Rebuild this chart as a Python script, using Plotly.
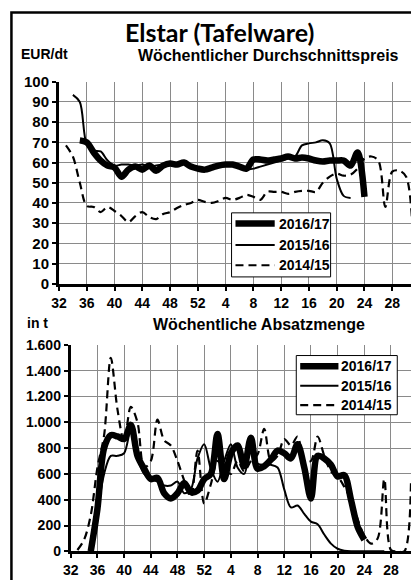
import plotly.graph_objects as go

# ---------------- data ----------------
week_labels = [32, 33, 34, 35, 36, 37, 38, 39, 40, 41, 42, 43, 44, 45, 46, 47, 48, 49, 50, 51, 52,
               1, 2, 3, 4, 5, 6, 7, 8, 9, 10, 11, 12, 13, 14, 15, 16, 17, 18, 19, 20,
               21, 22, 23, 24, 25, 26, 27, 28, 29, 30, 31]
series_names = ["2016/17", "2015/16", "2014/15"]

price_2016_17 = [None, None, None, 71, 70, 65, 61, 58.5, 57.5, 53, 56.5, 58, 56.5, 58.5, 56, 58.5,
                 59.5, 59, 60, 58, 57, 56.5, 57.5, 58.5, 59, 59, 58, 57, 61.5, 61.5, 61, 61.5, 62,
                 63, 62, 62.5, 62, 61, 60.5, 61, 61, 61, 58.5, 65, 43,
                 None, None, None, None, None, None, None]
price_2015_16 = [None, None, 93.5, 90, 69, 66, 65.5, 61, 58.5, 59, 59, 58.5, 59, 58, 58.5, 59,
                 59.5, 59.5, 60, 58.5, 57.5, 57, 58, 58.5, 59, 59, 58, 56.5, 57, 58, 59, 60, 61,
                 62, 63, 68.5, 69.5, 70, 71, 69.5, 52, 43.5, 42.5,
                 None, None, None, None, None, None, None, None, None]
price_2014_15 = [None, 68.5, 63, 50, 38.5, 38, 35.5, 38, 36, 33.5, 30.5, 33.5, 35.5, 33, 32, 34.5,
                 35.5, 37.5, 39, 40, 41.5, 40.5, 40, 41, 42.5, 41.5, 42.5, 44, 43, 41.5, 45.5,
                 45.5, 45.5, 44.5, 45.5, 46, 46, 45.5, 50, 53, 54.5, 53.5, 54, 57, 62, 63, 61,
                 38, 55.5, 56, 53, 22]

sales_2016_17 = [None, None, None, 0, 330, 800, 900, 890, 870, 980, 740, 640, 560, 570, 450, 410,
                 450, 530, 460, 470, 560, 600, 910, 560, 760, 820, 660, 880, 640, 660, 710, 780,
                 760, 720, 830, 650, 410, 740, 720, 670, 580, 590, 400, 190, 90,
                 None, None, None, None, None, None, None]
sales_2015_16 = [None, None, None, 0, 300, 600, 740, 740, 760, 940, 720, 600, 560, 540, 510, 510,
                 540, 450, 480, 720, 830, 640, 540, 700, 830, 650, 600, 800, 680, 670, 670, 650,
                 480, 340, 355, 290, 230, 210, 130, 60, 20, 5, 0, 0, 0, 0, 0, 0,
                 None, None, None, None]
sales_2014_15 = [None, 10, 90, 280, 650, 900, 1500, 1100, 850, 1120, 1000, 650, 700, 1020, 860,
                 820, 700, 550, 420, 780, 370, 520, 700, 640, 600, 700, 620, 700, 750, 950, 700,
                 740, 870, 820, 890, 700, 700, 890, 740, 620, 580, 500, 400, 250, 120, 60, 100,
                 560, 10, 0, 0, 540]

price_ticks = [0, 10, 20, 30, 40, 50, 60, 70, 80, 90, 100]
sales_ticks = [0, 200, 400, 600, 800, 1000, 1200, 1400, 1600]
sales_tick_text = ["0", "200", "400", "600", "800", "1.000", "1.200", "1.400", "1.600"]

# ---------------- figure ----------------
W, H = 411, 580
FONT = "Liberation Sans, Arial, sans-serif"
idx = list(range(len(week_labels)))
xtickvals = idx[::4]
xticktext = [str(week_labels[i]) for i in xtickvals]

styles = {
    "2016/17": dict(color="black", width=6.5),
    "2015/16": dict(color="black", width=2),
    "2014/15": dict(color="black", width=2.2, dash="8px,5px"),
}

fig = go.Figure()

def add_series(name, y, xa, ya):
    fig.add_trace(go.Scatter(
        x=idx, y=y, name=name, mode="lines", xaxis=xa, yaxis=ya, showlegend=False,
        connectgaps=False, line=dict(shape="spline", smoothing=0.9, **styles[name])))

for name, y in [("2014/15", price_2014_15), ("2015/16", price_2015_16),
                ("2016/17", price_2016_17)]:
    add_series(name, y, "x", "y")
for name, y in [("2014/15", sales_2014_15), ("2015/16", sales_2015_16),
                ("2016/17", sales_2016_17)]:
    add_series(name, y, "x2", "y2")

def px(x):
    return x / W

def py(y):
    return 1 - y / H

def bold(size):
    return dict(family=FONT, size=size, color="black", weight="bold")

axis_common = dict(showline=True, linecolor="black", linewidth=3, ticks="outside",
                   ticklen=4, tickwidth=2, tickcolor="black", showgrid=True,
                   gridcolor="#8a8a8a", gridwidth=1, zeroline=False)

fig.update_layout(
    width=W, height=H, margin=dict(l=0, r=0, t=0, b=0),
    paper_bgcolor="white", plot_bgcolor="white", showlegend=False,
    xaxis=dict(domain=[px(52), 1], range=[0, 50.7], tickvals=xtickvals, ticktext=xticktext,
               anchor="y", tickfont=bold(14), **axis_common),
    yaxis=dict(domain=[py(283), py(75)], range=[0, 100], tickvals=price_ticks,
               anchor="x", tickfont=bold(15), **axis_common),
    xaxis2=dict(domain=[px(64), 1], range=[0, 51], tickvals=xtickvals, ticktext=xticktext,
                anchor="y2", tickfont=bold(14), **axis_common),
    yaxis2=dict(domain=[py(558.7), py(346)], range=[0, 1600], tickvals=sales_ticks,
                ticktext=sales_tick_text, anchor="x2", tickfont=bold(14), **axis_common),
)

annots = [
    dict(text="Elstar (Tafelware)", x=px(216), y=py(24), xanchor="center", yanchor="middle",
         font=dict(family="Lato, Noto Sans, sans-serif", size=25, color="black", weight="bold")),
    dict(text="EUR/dt", x=px(11), y=py(46), xanchor="left", yanchor="middle", font=bold(14)),
    dict(text="Wöchentlicher Durchschnittspreis", x=px(266), y=py(48), xanchor="center",
         yanchor="middle", font=bold(16)),
    dict(text="in t", x=px(17), y=py(323), xanchor="left", yanchor="middle", font=bold(14)),
    dict(text="Wöchentliche Absatzmenge", x=px(256), y=py(325), xanchor="center",
         yanchor="middle", font=bold(16)),
]

# legends (one box per panel)
legend_boxes = [
    dict(box=(228, 329, 210, 276), line_x=(232, 272), text_x=274, rows=(221, 243, 264)),
    dict(box=(294, 397, 357, 418), line_x=(298, 337), text_x=338, rows=(368, 388, 408)),
]
for lg in legend_boxes:
    x0, x1, y0, y1 = lg["box"]
    fig.add_shape(type="rect", xref="paper", yref="paper", x0=px(x0), x1=px(x1),
                  y0=py(y1), y1=py(y0), line=dict(color="black", width=1), fillcolor="white",
                  layer="above")
    for name, ry in zip(series_names, lg["rows"]):
        st = styles[name]
        fig.add_shape(type="line", xref="paper", yref="paper", x0=px(lg["line_x"][0]),
                      x1=px(lg["line_x"][1]), y0=py(ry), y1=py(ry), layer="above",
                      line=dict(color="black", width=st["width"], dash=st.get("dash", "solid")))
        annots.append(dict(text=name, x=px(lg["text_x"]), y=py(ry), xanchor="left",
                           yanchor="middle", font=bold(14)))

for a in annots:
    fig.add_annotation(xref="paper", yref="paper", showarrow=False, **a)

# outer frame of the chart
fig.add_shape(type="rect", xref="paper", yref="paper", x0=px(3.5), x1=1.05, y0=-0.05,
              y1=py(3.5), line=dict(color="black", width=2.5), fillcolor="rgba(0,0,0,0)",
              layer="above")

fig.write_html(
    "out.html",
    config={"displayModeBar": False},
    post_script="document.body.style.margin='0';document.body.style.padding='0';"
                "document.documentElement.style.overflow='hidden';"
                "document.body.style.overflow='hidden';",
)
